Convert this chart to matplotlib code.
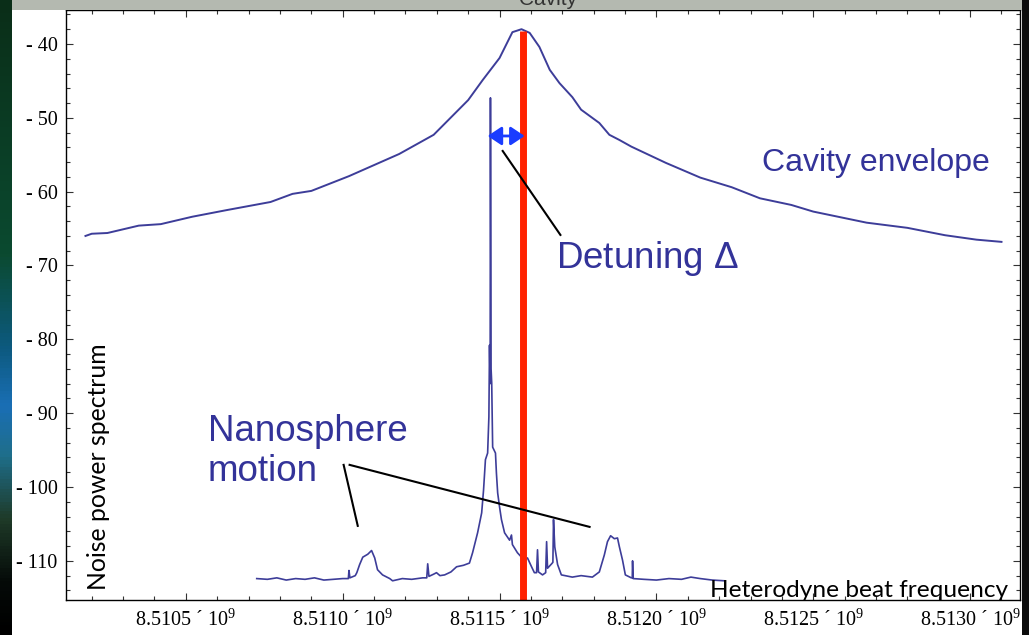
import matplotlib
matplotlib.use('Agg')
import matplotlib.pyplot as plt
from matplotlib.patches import Rectangle
from matplotlib.colors import LinearSegmentedColormap
from matplotlib.ticker import MultipleLocator, FuncFormatter
import numpy as np

# frequency in units of 10^9 Hz, power in dB
envelope_freq = [8.51018, 8.51020, 8.51025, 8.51035, 8.51042, 8.51052, 8.51063, 8.51077,
                 8.51084, 8.51090, 8.51102, 8.51118, 8.51129, 8.51140, 8.511446, 8.51150,
                 8.511541, 8.51157, 8.511596, 8.511627, 8.51166, 8.511691, 8.511732, 8.51176,
                 8.511818, 8.51185, 8.511882, 8.51192, 8.51203,
                 8.51214, 8.51224, 8.51233, 8.51243, 8.51250, 8.51267, 8.51280, 8.51292,
                 8.51302, 8.51310]
envelope_power = [-66.0, -65.7, -65.6, -64.6, -64.4, -63.4, -62.5, -61.4,
                  -60.3, -59.9, -57.9, -54.9, -52.3, -47.6, -44.9, -41.9,
                  -38.4, -38.0, -38.5, -40.4, -43.5, -45.3, -47.2, -48.9,
                  -50.7, -52.3, -53.0, -53.9, -56.1,
                  -58.1, -59.4, -60.9, -61.8, -62.7, -64.2, -64.9, -65.9,
                  -66.5, -66.8]

noise_freq = [8.510726, 8.510760, 8.510790, 8.510820, 8.510850, 8.510880, 8.510910, 8.510940,
              8.510970, 8.511000, 8.511018, 8.511020, 8.511023, 8.511040, 8.511045, 8.511054,
              8.511064, 8.511080, 8.511092, 8.511102, 8.511111, 8.511127, 8.511150, 8.511159,
              8.511190, 8.511220, 8.511255, 8.511268, 8.511271, 8.511275, 8.511290, 8.511299,
              8.511310, 8.511325, 8.511345, 8.511363, 8.511385, 8.511404, 8.511414, 8.511430,
              8.511443, 8.511449, 8.511455, 8.511462, 8.511466, 8.511468, 8.511470, 8.511471,
              8.511473, 8.511475, 8.511478, 8.511487, 8.511490, 8.511494, 8.511500, 8.511506,
              8.511516, 8.511532, 8.511538, 8.511541, 8.511557, 8.511570, 8.511580, 8.511589,
              8.511602, 8.511611, 8.511618, 8.511621, 8.511624, 8.511637, 8.511647, 8.511650,
              8.511653, 8.511666, 8.511670, 8.511672, 8.511676, 8.511685, 8.511697, 8.511732,
              8.511760, 8.511796, 8.511818, 8.511834, 8.511844, 8.511854, 8.511866, 8.511876,
              8.511882, 8.511892, 8.511901, 8.511920, 8.511923, 8.511924, 8.511926, 8.511960,
              8.512000, 8.512040, 8.512080, 8.512110, 8.512140, 8.512178, 8.512217]
noise_power = [-112.4, -112.5, -112.3, -112.6, -112.4, -112.5, -112.3, -112.6,
               -112.5, -112.4, -112.4, -111.3, -112.3, -112.0, -111.6, -110.5,
               -109.5, -109.1, -108.6, -109.6, -111.2, -111.9, -112.4, -112.7,
               -112.4, -112.5, -112.3, -112.3, -110.4, -112.1, -111.8, -111.6,
               -112.0, -111.9, -111.5, -110.8, -110.6, -110.3, -108.9, -106.2,
               -103.5, -100.4, -96.3, -95.4, -90.5, -80.8, -86.0, -47.3,
               -84.0, -85.9, -94.6, -95.4, -98.1, -100.8, -102.7, -104.4,
               -106.2, -107.2, -106.5, -107.8, -108.9, -109.5, -109.9, -109.6,
               -110.8, -111.6, -111.6, -108.5, -111.5, -111.9, -111.6, -107.4,
               -111.0, -110.4, -110.2, -104.4, -108.1, -110.5, -111.9, -112.2,
               -112.0, -112.2, -111.5, -109.2, -107.4, -106.6, -107.0, -106.9,
               -108.1, -109.9, -111.9, -112.3, -112.3, -110.0, -112.4, -112.5,
               -112.6, -112.4, -112.5, -112.2, -112.4, -112.6, -112.7]

laser_freq = 8.511575
laser_top = -38.2

x_major = [8.5105, 8.5110, 8.5115, 8.5120, 8.5125, 8.5130]
y_major = [-110, -100, -90, -80, -70, -60, -50, -40]

W, H = 1029, 635
line_color = '#3d3d99'
text_color = '#333399'


def px(x, y):
    # pixel position on the slide -> figure fraction
    return x / W, 1 - y / H


fig = plt.figure(figsize=(W / 100, H / 100), dpi=100, facecolor='white')

# slide background bits around the plot
strip = fig.add_axes([0, 0, 12 / W, 1])
cmap = LinearSegmentedColormap.from_list('slide', [(0, '#000000'), (0.08, '#050a08'), (0.18, '#1e3a28'),
                                                    (0.28, '#1f6e8a'), (0.36, '#1a6fb5'), (0.45, '#0d5a80'),
                                                    (0.6, '#0b4a30'), (1, '#0a2e18')])
strip.imshow(np.linspace(0, 1, 200).reshape(-1, 1), aspect='auto', cmap=cmap, origin='lower')
strip.axis('off')
fig.patches.append(Rectangle((12 / W, 1 - 10 / H), 1010 / W, 10 / H, transform=fig.transFigure,
                             facecolor='#b4b9b0', edgecolor='none', zorder=0))
fig.patches.append(Rectangle((1022 / W, 0), 7 / W, 1, transform=fig.transFigure,
                             facecolor='#0c0c0c', edgecolor='none', zorder=0))
fig.text(548 / W, 1 - 5 / H, 'Cavity', ha='center', va='baseline', fontsize=15,
         family='Liberation Sans', color='#333333')

ax = fig.add_axes([66 / W, 1 - 600 / H, (1020 - 66) / W, 590 / H])
ax.plot(envelope_freq, envelope_power, color=line_color, lw=1.4)
ax.plot(noise_freq, noise_power, color=line_color, lw=1.2)
ax.plot([laser_freq, laser_freq], [laser_top, -115.3], color='#ff2200', lw=5, solid_capstyle='butt')

ax.set_xlim(8.510118, 8.513159)
ax.set_ylim(-115.3, -35.4)

ax.set_xticks(x_major)
ax.set_yticks(y_major)
ax.xaxis.set_minor_locator(MultipleLocator(0.0001))
ax.yaxis.set_minor_locator(MultipleLocator(2))
ax.xaxis.set_major_formatter(FuncFormatter(lambda v, p: '%.4f ´ $\\mathregular{10^{9}}$' % v))
ax.yaxis.set_major_formatter(FuncFormatter(lambda v, p: '- %d' % abs(v)))
ax.tick_params(which='both', direction='in', top=True, right=True, color='#333333', width=0.8)
ax.tick_params(which='major', length=5)
ax.tick_params(which='minor', length=3)
ax.tick_params(axis='x', pad=7)
ax.tick_params(axis='y', pad=6)
for lab in ax.get_xticklabels() + ax.get_yticklabels():
    lab.set_family('Liberation Serif')
    lab.set_fontsize(14.5)
for sp in ax.spines.values():
    sp.set_linewidth(1.0)

# annotations
ax.annotate('', xy=(8.511462, -52.46), xytext=(8.511580, -52.46),
            arrowprops=dict(arrowstyle='<|-|>,head_length=0.6,head_width=0.4',
                            color='#1a3cff', lw=2, mutation_scale=14, shrinkA=0, shrinkB=0))
ax.plot([8.511510, 8.511694], [-54.49, -65.86], color='black', lw=1.5)
ax.plot([8.511003, 8.511048], [-97.0, -105.26], color='black', lw=1.5)
ax.plot([8.511022, 8.511787], [-97.0, -105.4], color='black', lw=1.5)

fig.text(*px(762, 171), 'Cavity envelope', fontsize=23, family='Liberation Sans', color=text_color)
fig.text(*px(556, 268), 'Detuning $\\mathregular{\\Delta}$', fontsize=26.5, family='Liberation Sans',
         color=text_color)
fig.text(*px(208, 441), 'Nanosphere', fontsize=26.5, family='Liberation Sans', color=text_color)
fig.text(*px(208, 481), 'motion', fontsize=26.5, family='Liberation Sans', color=text_color)
fig.text(*px(1008, 597), 'Heterodyne beat frequency', ha='right', va='baseline', fontsize=17.6,
         family='Lato', color='black')
fig.text(*px(98, 467), 'Noise power spectrum', rotation=90, ha='center', va='center', fontsize=17.8,
         family='Lato', color='black')

fig.savefig('out.png', dpi=100)
